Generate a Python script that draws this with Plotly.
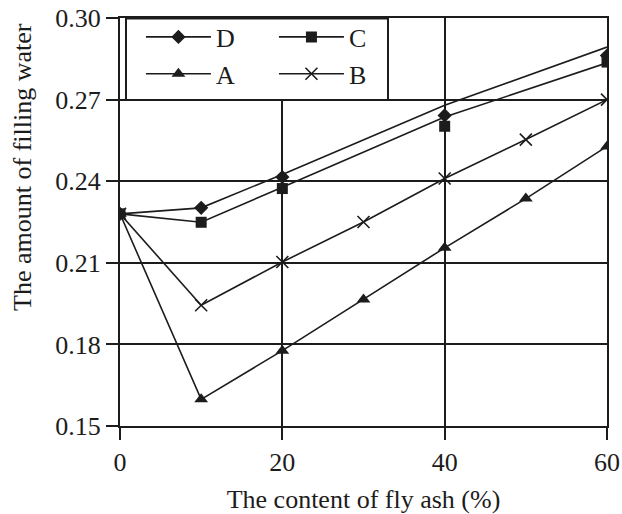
import plotly.graph_objects as go

# ---- data ----
x_dc = [0, 10, 20, 40, 60]
d_marker = [0.228, 0.2302, 0.2415, 0.2642, 0.2862]
d_line = [0.228, 0.2302, 0.2425, 0.2679, 0.2893]
c_marker = [0.228, 0.2249, 0.2373, 0.2602, 0.2838]
c_line = [0.228, 0.2249, 0.2378, 0.2636, 0.2835]

x_ab = [0, 10, 20, 30, 40, 50, 60]
a_vals = [0.228, 0.1598, 0.1777, 0.1965, 0.2155, 0.2336, 0.2528]
b_vals = [0.228, 0.1944, 0.2103, 0.2250, 0.2410, 0.2553, 0.2700]

x_ticks = [0, 20, 40, 60]
y_ticks = [0.15, 0.18, 0.21, 0.24, 0.27, 0.30]

INK = "#1c1c1c"
FONT = "Liberation Serif"
FS = 26

fig = go.Figure()

# line traces (D, C lines)
fig.add_trace(go.Scatter(x=x_dc, y=d_line, mode="lines", line=dict(color=INK, width=1.6),
                         showlegend=False, hoverinfo="skip"))
fig.add_trace(go.Scatter(x=x_dc, y=c_line, mode="lines", line=dict(color=INK, width=1.6),
                         showlegend=False, hoverinfo="skip"))
# A and B
fig.add_trace(go.Scatter(x=x_ab, y=a_vals, mode="lines+markers", name="A",
                         line=dict(color=INK, width=1.6),
                         marker=dict(symbol="triangle-up", size=12, color=INK),
                         legendgroup="c1", legendrank=3))
fig.add_trace(go.Scatter(x=x_ab, y=b_vals, mode="lines+markers", name="B",
                         line=dict(color=INK, width=1.6),
                         marker=dict(symbol="x-thin", size=12, color=INK, line=dict(color=INK, width=1.6)),
                         legendgroup="c2", legendrank=4))
# D and C markers
fig.add_trace(go.Scatter(x=x_dc, y=d_marker, mode="markers",
                         marker=dict(symbol="diamond", size=11, color=INK),
                         showlegend=False))
fig.add_trace(go.Scatter(x=x_dc, y=c_marker, mode="markers",
                         marker=dict(symbol="square", size=11, color=INK),
                         showlegend=False))
# legend entries for D and C
fig.add_trace(go.Scatter(x=[None], y=[None], mode="lines+markers", name="D",
                         line=dict(color=INK, width=1.6),
                         marker=dict(symbol="diamond", size=11, color=INK),
                         legendgroup="c1", legendrank=1))
fig.add_trace(go.Scatter(x=[None], y=[None], mode="lines+markers", name="C",
                         line=dict(color=INK, width=1.6),
                         marker=dict(symbol="square", size=11, color=INK),
                         legendgroup="c2", legendrank=2))

axis_common = dict(
    showgrid=True, gridcolor=INK, gridwidth=2,
    showline=True, linecolor=INK, linewidth=2, mirror=True,
    ticks="outside", ticklen=12, tickwidth=2, tickcolor=INK,
    zeroline=False, automargin=False, ticklabeloverflow="allow",
    tickfont=dict(family=FONT, size=FS, color=INK),
)

fig.update_layout(
    width=622, height=514,
    margin=dict(l=120, r=15, t=18, b=88),
    paper_bgcolor="white", plot_bgcolor="white",
    font=dict(family=FONT, size=FS, color=INK),
    xaxis=dict(range=[0, 60], tickvals=x_ticks,
               title=dict(text="The content of fly ash (%)", font=dict(family=FONT, size=FS, color=INK)),
               **axis_common),
    yaxis=dict(range=[0.15, 0.30], tickvals=y_ticks, tickformat=".2f",
               **axis_common),
    legend=dict(orientation="h", traceorder="grouped", x=0.043, y=1.011,
                xanchor="left", yanchor="top", bgcolor="rgba(0,0,0,0)",
                borderwidth=0, itemwidth=65, entrywidth=53,
                font=dict(family=FONT, size=FS, color=INK)),
    shapes=[dict(type="rect", xref="paper", yref="paper",
                 x0=0.0123, x1=0.5503, y0=0.799, y1=0.999,
                 line=dict(color=INK, width=2), fillcolor="white", layer="above")],
    annotations=[dict(text="The amount of filling water", textangle=-90,
                      xref="paper", yref="paper", x=-0.1992, y=0.635,
                      xanchor="center", yanchor="middle", showarrow=False,
                      font=dict(family=FONT, size=FS, color=INK))],
)

fig.write_html(
    "out.html",
    config={"displayModeBar": False},
    post_script="document.body.style.margin='0';document.body.style.overflow='hidden';",
)
